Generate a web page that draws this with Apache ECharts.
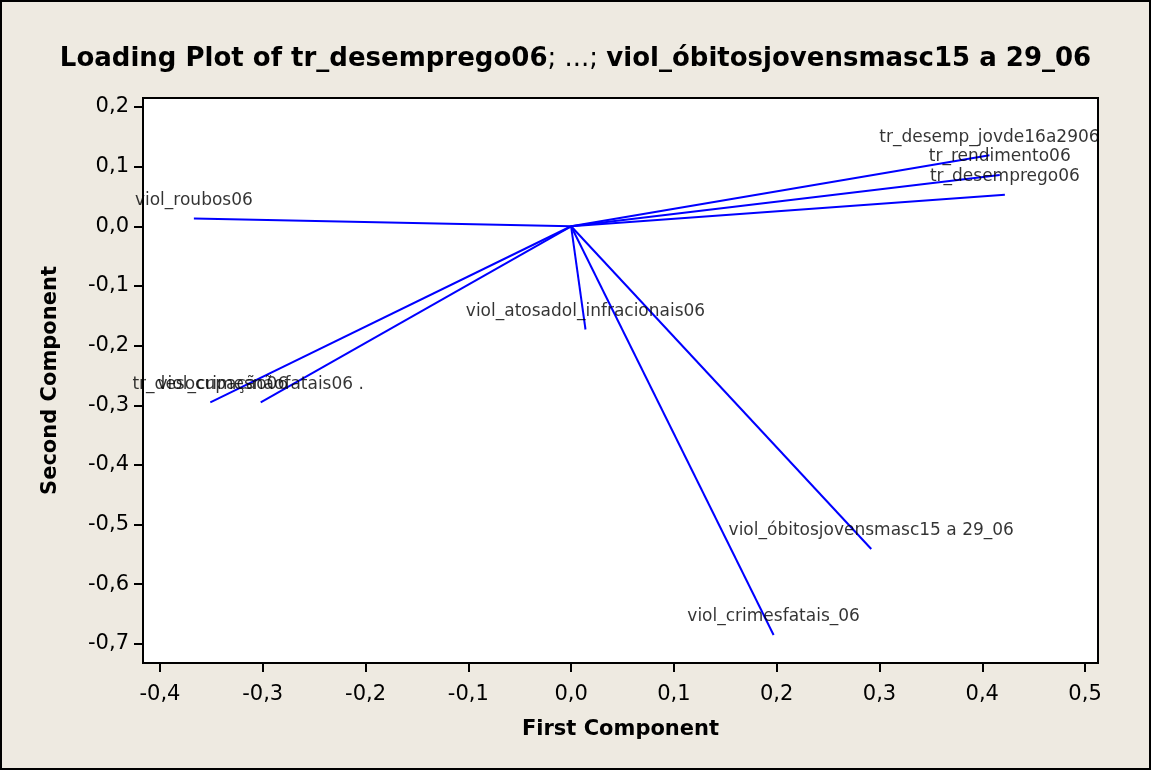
<!DOCTYPE html>
<html>
<head>
<meta charset="utf-8">
<script src="https://cdn.jsdelivr.net/npm/echarts@6/dist/echarts.min.js"></script>
<style>
  html, body { margin: 0; padding: 0; background: #EEEAE1; }
  #wrap { position: relative; width: 1151px; height: 770px; }
  #chart { width: 1151px; height: 770px; }
  #frame { position: absolute; left: 0; top: 0; width: 1151px; height: 770px;
           box-sizing: border-box; border: 2px solid #000; pointer-events: none; }
</style>
</head>
<body>
<div id="wrap">
  <div id="chart"></div>
  <div id="frame"></div>
</div>
<script>
// Variable names and their loadings on the first two principal components
const variables = [
  'tr_desemp_jovde16a2906',
  'tr_rendimento06',
  'tr_desemprego06',
  'viol_roubos06',
  'tr_desocupação06',
  'viol_crimesnãofatais06 .',
  'viol_atosadol_infracionais06',
  'viol_óbitosjovensmasc15 a 29_06',
  'viol_crimesfatais_06'
];
const firstComponent  = [0.407, 0.417, 0.422, -0.367, -0.351, -0.302, 0.014, 0.292, 0.197];
const secondComponent = [0.119, 0.086, 0.053, 0.013, -0.295, -0.295, -0.173, -0.541, -0.685];

// Axis tick positions
const xTicks = [-0.4, -0.3, -0.2, -0.1, 0.0, 0.1, 0.2, 0.3, 0.4, 0.5];
const yTicks = [0.2, 0.1, 0.0, -0.1, -0.2, -0.3, -0.4, -0.5, -0.6, -0.7];

const commaFmt = v => {
  const s = (Math.round(v * 10) / 10).toFixed(1);
  return (s === '-0.0' ? '0.0' : s).replace('.', ',');
};

const FONT = 'DejaVu Sans';

// One segment from the origin to each loading
const lineSeries = variables.map((name, i) => ({
  name: name,
  type: 'line',
  data: [[0, 0], [firstComponent[i], secondComponent[i]]],
  symbol: 'none',
  silent: true,
  lineStyle: { color: '#0000FF', width: 2 },
  z: 3
}));

// Variable names placed just above each loading's end point
const labelSeries = {
  type: 'scatter',
  symbolSize: 1,
  silent: true,
  itemStyle: { color: 'rgba(0,0,0,0)' },
  data: variables.map((name, i) => ({ name: name, value: [firstComponent[i], secondComponent[i]] })),
  label: {
    show: true,
    position: 'top',
    distance: 9,
    formatter: p => p.name,
    color: '#000',
    fontFamily: FONT,
    fontSize: 17
  },
  z: 5
};

const chart = echarts.init(document.getElementById('chart'), null, { renderer: 'canvas' });
chart.setOption({
  backgroundColor: '#EEEAE1',
  animation: false,
  title: {
    left: 'center',
    top: 41,
    text: '{b|Loading Plot of tr_desemprego06}{r|; ...; }{b|viol_óbitosjovensmasc15 a 29_06}',
    textStyle: {
      rich: {
        b: { fontFamily: FONT, fontSize: 26, fontWeight: 'bold', color: '#000' },
        r: { fontFamily: FONT, fontSize: 26, fontWeight: 'normal', color: '#000' }
      }
    }
  },
  grid: {
    left: 143, right: 53, top: 98, bottom: 107,
    show: true, backgroundColor: '#FFFFFF', borderColor: '#000', borderWidth: 2
  },
  xAxis: {
    type: 'value',
    min: -0.4165, max: 0.5126,
    name: 'First Component',
    nameLocation: 'middle',
    nameGap: 56,
    nameTextStyle: { fontFamily: FONT, fontSize: 21, fontWeight: 'bold', color: '#000' },
    axisLine: { show: false, onZero: false },
    splitLine: { show: false },
    axisTick: { show: true, inside: false, length: 9, customValues: xTicks,
                lineStyle: { color: '#000', width: 2 } },
    axisLabel: { customValues: xTicks, formatter: commaFmt, margin: 21,
                 fontFamily: FONT, fontSize: 21, color: '#000' }
  },
  yAxis: {
    type: 'value',
    min: -0.732, max: 0.215,
    name: 'Second Component',
    nameLocation: 'middle',
    nameGap: 82,
    nameTextStyle: { fontFamily: FONT, fontSize: 21, fontWeight: 'bold', color: '#000' },
    axisLine: { show: false, onZero: false },
    splitLine: { show: false },
    axisTick: { show: true, inside: false, length: 9, customValues: yTicks,
                lineStyle: { color: '#000', width: 2 } },
    axisLabel: { customValues: yTicks, formatter: commaFmt, margin: 14,
                 fontFamily: FONT, fontSize: 21, color: '#000' }
  },
  series: [...lineSeries, labelSeries]
});
</script>
</body>
</html>
